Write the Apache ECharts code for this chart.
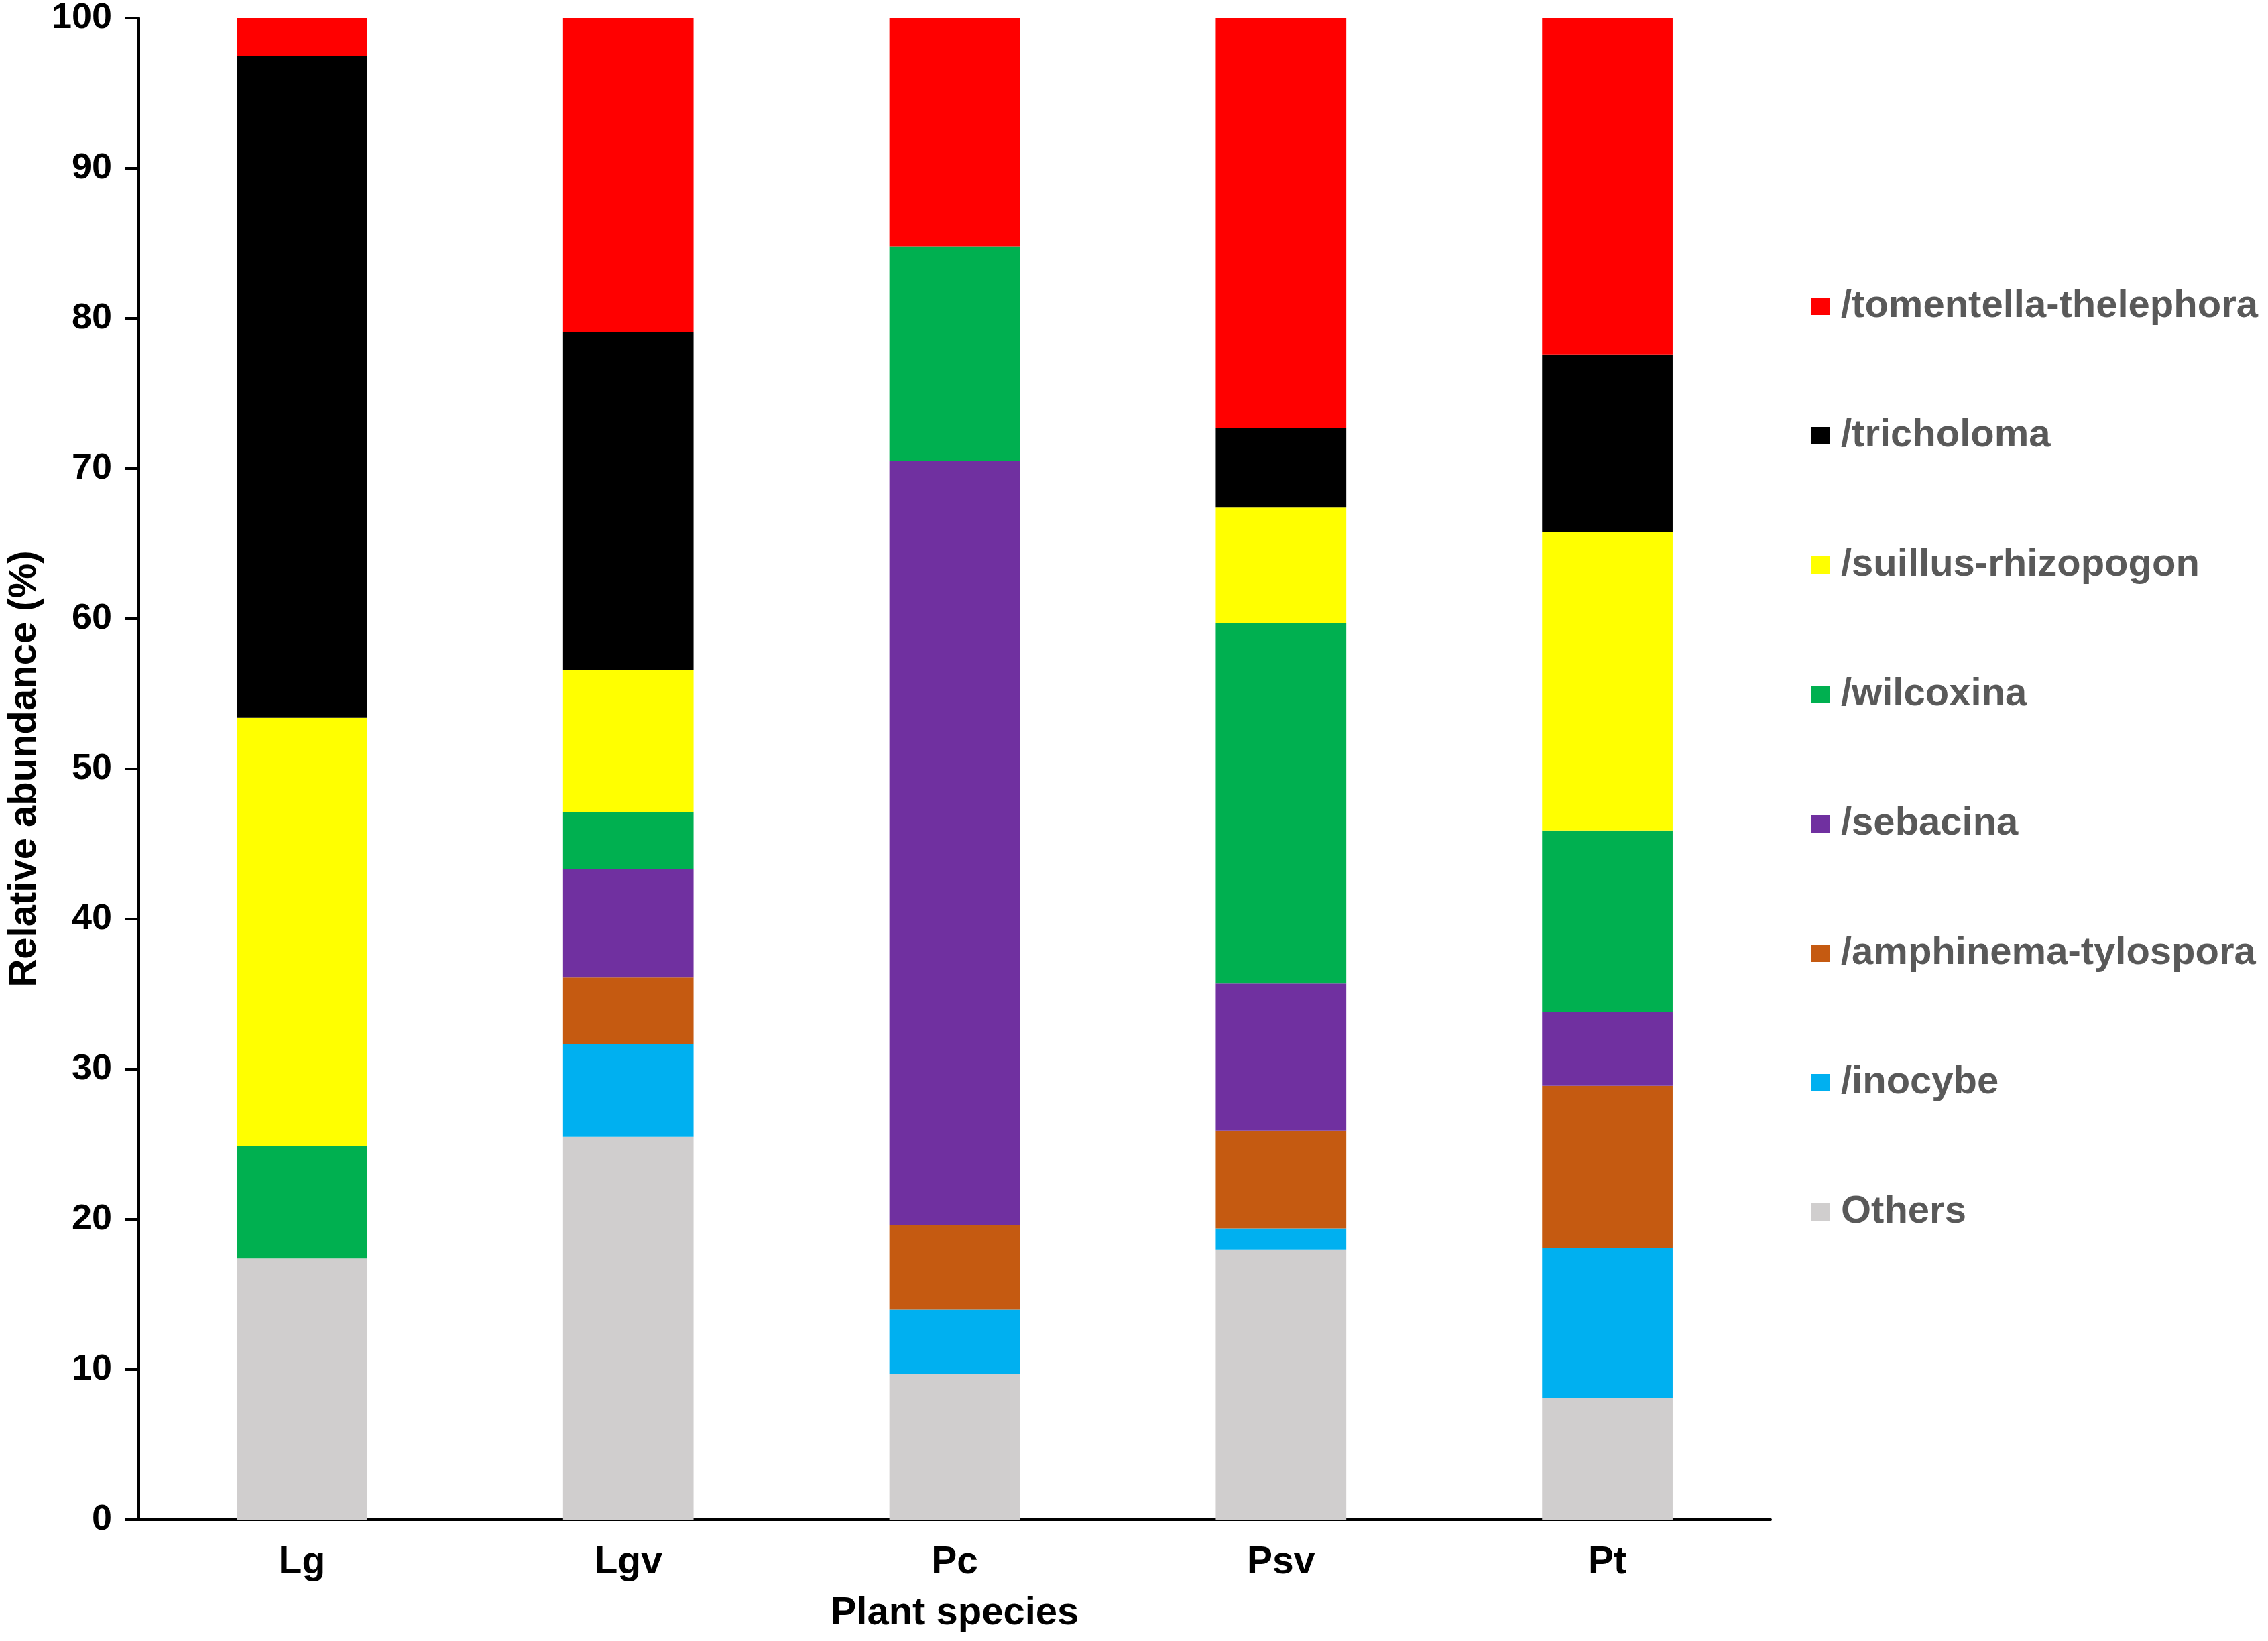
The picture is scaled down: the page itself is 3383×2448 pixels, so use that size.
<!DOCTYPE html>
<html>
<head>
<meta charset="utf-8">
<script src="https://cdn.jsdelivr.net/npm/echarts@6/dist/echarts.min.js"></script>
<style>
html,body{margin:0;padding:0;background:#fff;}
#chart{width:3383px;height:2448px;}
</style>
</head>
<body>
<div id="chart"></div>
<script>
var categories = ['Lg', 'Lgv', 'Pc', 'Psv', 'Pt'];
var yTicks = { min: 0, max: 100, interval: 10 };

var others      = [17.4, 25.5, 9.7, 18.0, 8.1];
var inocybe     = [0, 6.2, 4.3, 1.4, 10.0];
var amphinema   = [0, 4.4, 5.6, 6.5, 10.8];
var sebacina    = [0, 7.2, 50.9, 9.8, 4.9];
var wilcoxina   = [7.5, 3.8, 14.3, 24.0, 12.1];
var suillus     = [28.5, 9.5, 0, 7.7, 19.9];
var tricholoma  = [44.1, 22.5, 0, 5.3, 11.8];
var tomentella  = [2.5, 20.9, 15.2, 27.3, 22.4];

var seriesNames = ['Others', '/inocybe', '/amphinema-tylospora', '/sebacina', '/wilcoxina', '/suillus-rhizopogon', '/tricholoma', '/tomentella-thelephora'];
var seriesValues = [others, inocybe, amphinema, sebacina, wilcoxina, suillus, tricholoma, tomentella];
var seriesColors = ['#D0CECE', '#00B0F0', '#C55A11', '#7030A0', '#00B050', '#FFFF00', '#000000', '#FF0000'];
var legendOrder = ['/tomentella-thelephora', '/tricholoma', '/suillus-rhizopogon', '/wilcoxina', '/sebacina', '/amphinema-tylospora', '/inocybe', 'Others'];

var FONT = '"Liberation Sans", Arial, sans-serif';

var series = seriesNames.map(function (name, i) {
  return {
    name: name,
    type: 'bar',
    stack: 'total',
    barWidth: '40%',
    data: seriesValues[i],
    itemStyle: { color: seriesColors[i] },
    emphasis: { disabled: true }
  };
});

var chart = echarts.init(document.getElementById('chart'));
chart.setOption({
  animation: false,
  backgroundColor: '#ffffff',
  grid: { left: 200, top: 27, right: 742, bottom: 181, containLabel: false },
  legend: {
    data: legendOrder,
    orient: 'vertical',
    left: 2697,
    top: 423,
    itemGap: 135,
    itemWidth: 28,
    itemHeight: 26,
    icon: 'rect',
    textStyle: {
      fontFamily: FONT,
      fontWeight: 'bold',
      fontSize: 58,
      color: '#595959',
      padding: [0, 0, 0, 11]
    }
  },
  xAxis: {
    type: 'category',
    data: categories,
    name: 'Plant species',
    nameLocation: 'middle',
    nameGap: 111,
    nameTextStyle: { fontFamily: FONT, fontWeight: 'bold', fontSize: 58, color: '#000' },
    axisLine: { lineStyle: { color: '#000', width: 4 } },
    axisTick: { show: false },
    axisLabel: { fontFamily: FONT, fontWeight: 'bold', fontSize: 57, color: '#000', margin: 36 },
    splitLine: { show: false }
  },
  yAxis: {
    type: 'value',
    min: yTicks.min,
    max: yTicks.max,
    interval: yTicks.interval,
    name: 'Relative abundance (%)',
    nameLocation: 'middle',
    nameGap: 139,
    nameRotate: 90,
    nameTextStyle: { fontFamily: FONT, fontWeight: 'bold', fontSize: 58, color: '#000' },
    axisLine: { show: true, lineStyle: { color: '#000', width: 4 } },
    axisTick: { show: true, inside: false, length: 20, lineStyle: { color: '#000', width: 4 } },
    axisLabel: { fontFamily: FONT, fontWeight: 'bold', fontSize: 54, color: '#000', margin: 40 },
    splitLine: { show: false }
  },
  series: series
});
</script>
</body>
</html>
